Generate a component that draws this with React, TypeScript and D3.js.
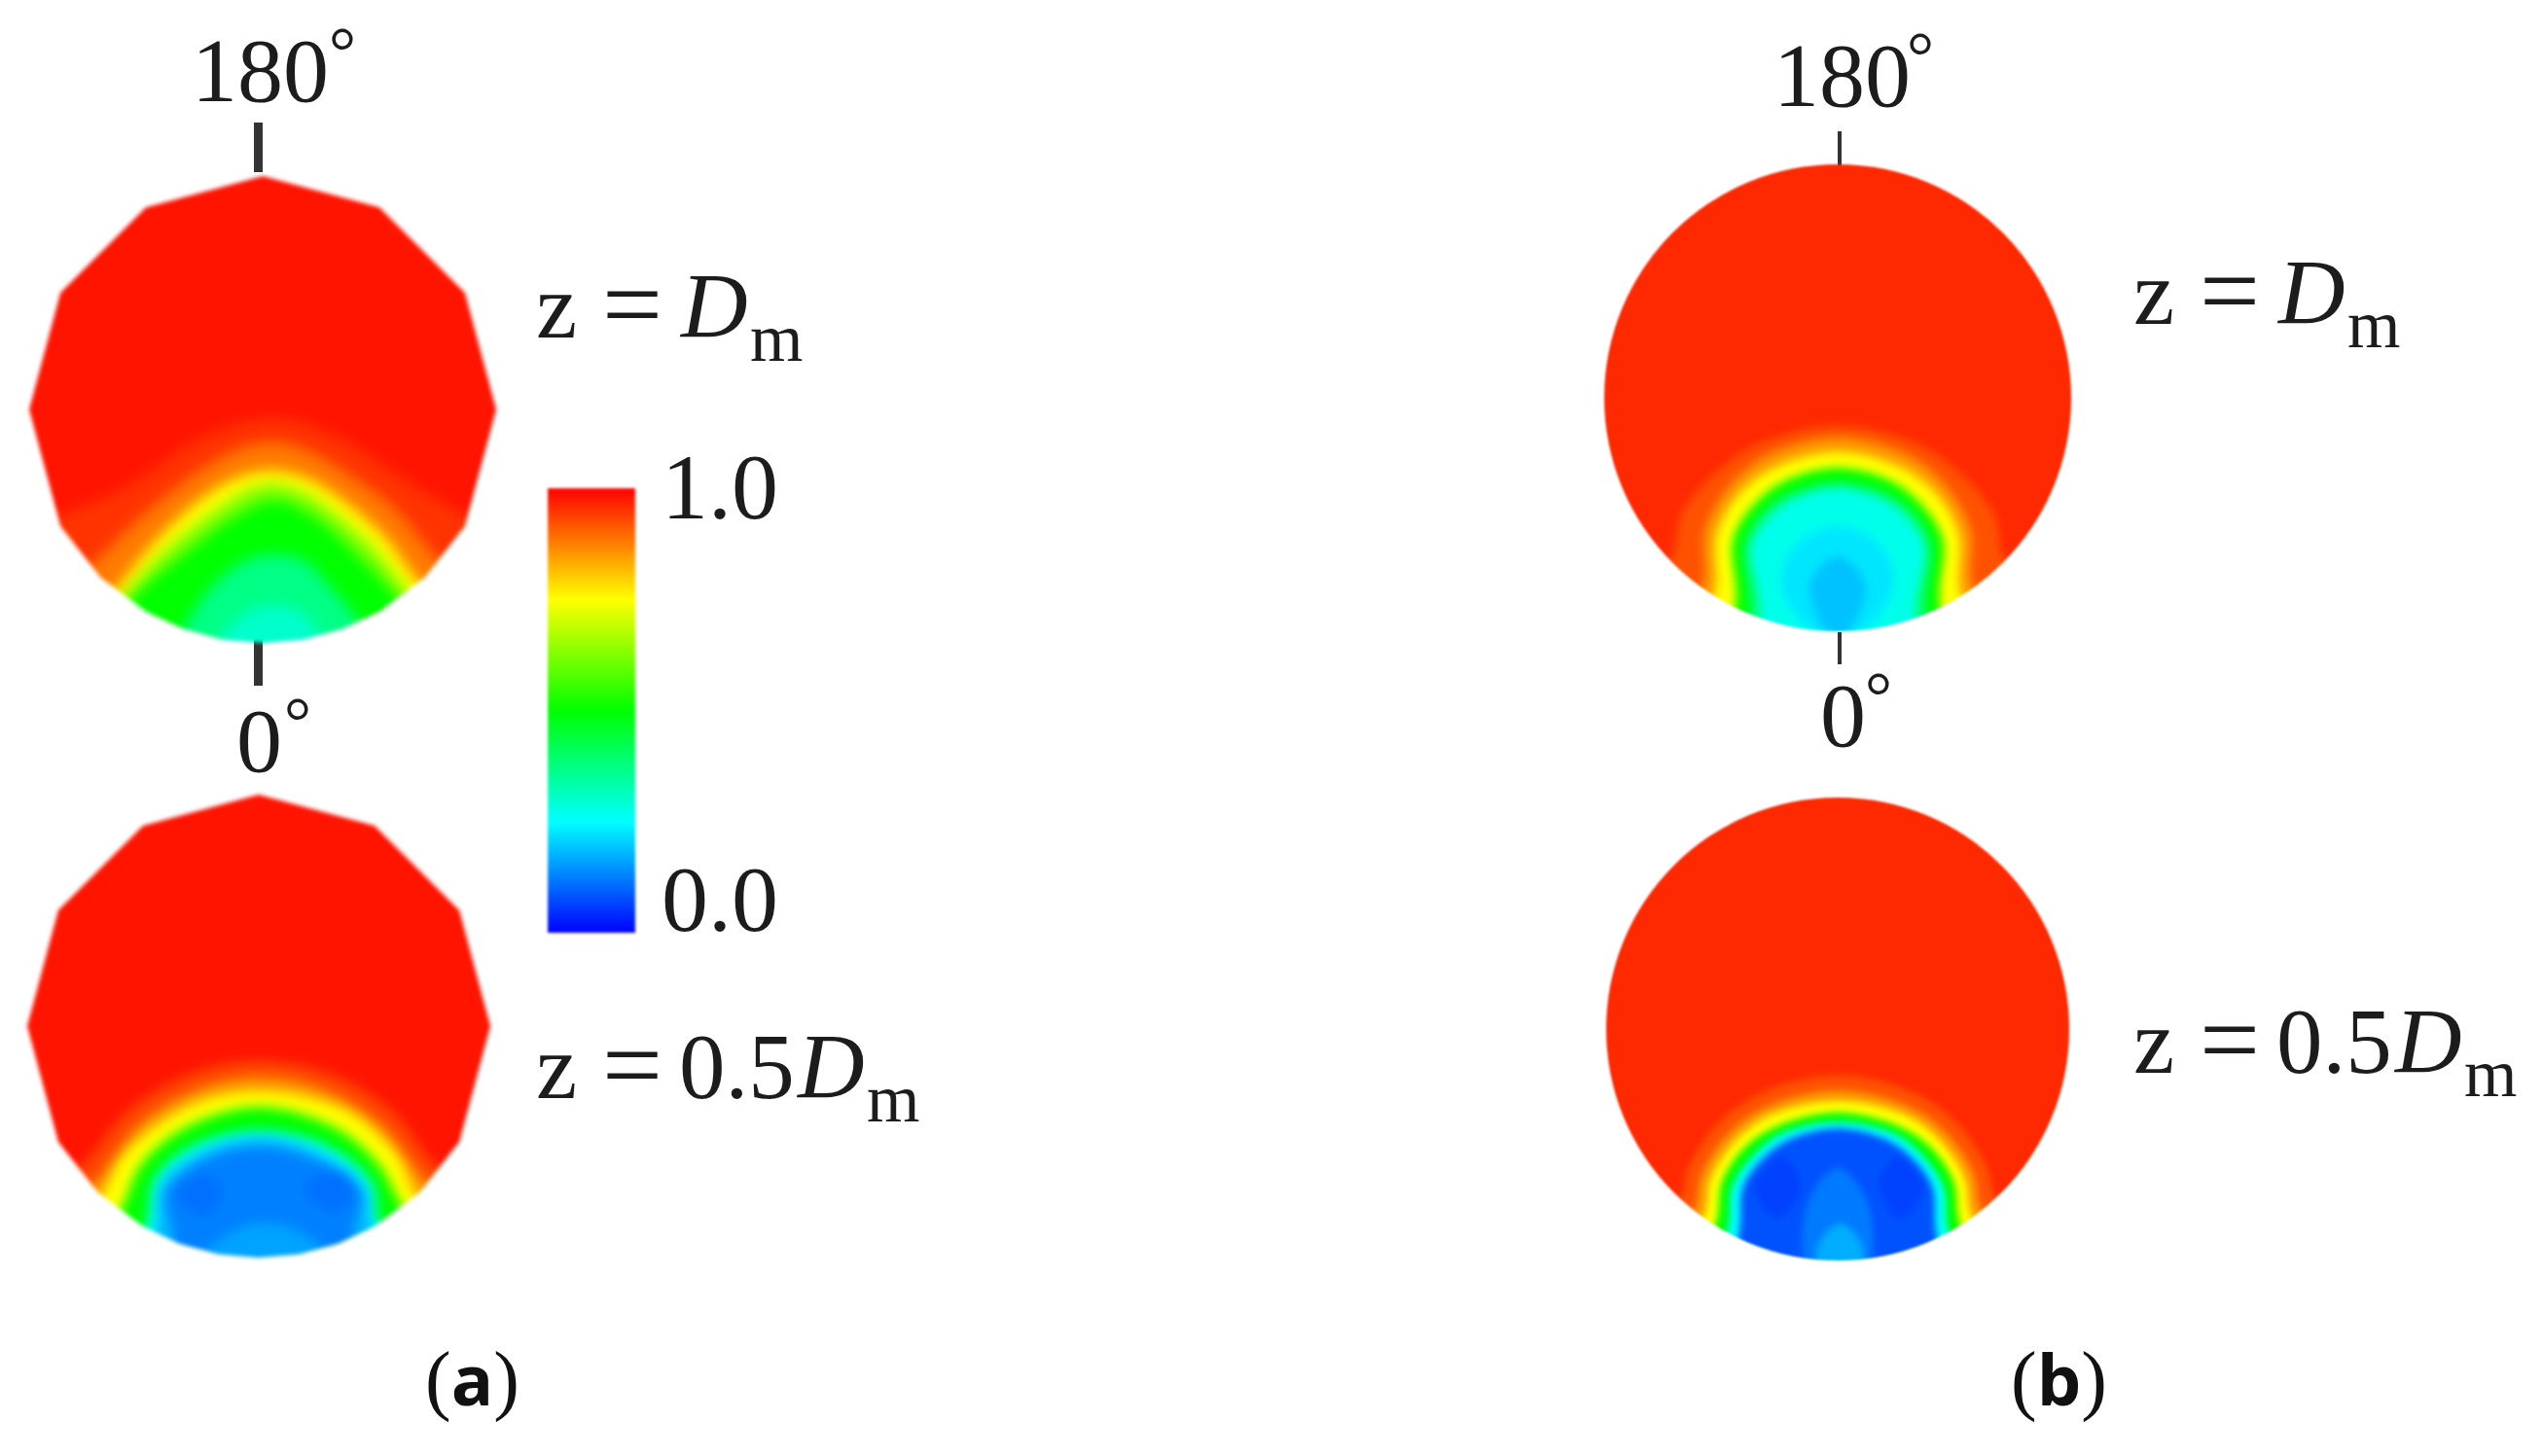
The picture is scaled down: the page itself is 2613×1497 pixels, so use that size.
import * as d3 from "d3";

type Pt = [number, number];
type Band = { v: number; pts: Pt[] };

const WIDTH = 2613;
const HEIGHT = 1497;
const SERIF = "'Liberation Serif', serif";

// band edge runs from the left rim over the top to the right rim, then closes off-disc
const arch = (v: number, pts: Pt[]): Band => {
  const f = pts[0];
  const l = pts[pts.length - 1];
  return {
    v,
    pts: [...pts, [l[0] * 1.4, l[1] * 1.4], [0, 1.7], [f[0] * 1.4, f[1] * 1.4]],
  };
};
const blob = (v: number, pts: Pt[]): Band => ({ v, pts });

// colour bar stops
const barValues = [0, 0.25, 0.5, 0.75, 1];
const barColors = ["#0000ff", "#00ffff", "#00ff00", "#ffff00", "#ff0000"];
const barLabels = [
  { v: 1, text: "1.0", x: 680, y: 533 },
  { v: 0, text: "0.0", x: 680, y: 957 },
];

// angles of the rim vertices on the measured discs in (a), degrees from 180° mark
const rimAngles = [0, 30, 60, 90, 120, 136, 150, 160, 170, 180, 190, 200, 210, 224, 240, 270, 300, 330];

// field: base value, then nested bands in x/R, y/R (y down)
const aTopBase = 0.98;
const aTopBands: Band[] = [
  arch(0.95, [[-0.88, 0.46], [-0.6, 0.34], [-0.26, 0.12], [0.05, 0.04], [0.33, 0.12], [0.64, 0.32], [0.88, 0.46]]),
  arch(0.88, [[-0.74, 0.67], [-0.5, 0.44], [-0.24, 0.24], [-0.08, 0.16], [0.05, 0.14], [0.18, 0.17], [0.31, 0.24], [0.56, 0.42], [0.76, 0.65]]),
  arch(0.75, [[-0.63, 0.77], [-0.43, 0.53], [-0.22, 0.35], [-0.08, 0.28], [0.05, 0.26], [0.18, 0.29], [0.29, 0.35], [0.51, 0.53], [0.67, 0.74]]),
  arch(0.62, [[-0.6, 0.8], [-0.38, 0.57], [-0.17, 0.41], [-0.05, 0.34], [0.05, 0.32], [0.16, 0.35], [0.26, 0.41], [0.46, 0.58], [0.62, 0.78]]),
  arch(0.5, [[-0.57, 0.82], [-0.31, 0.6], [-0.12, 0.46], [0.05, 0.39], [0.22, 0.46], [0.41, 0.63], [0.58, 0.81]]),
  arch(0.37, [[-0.34, 0.94], [-0.22, 0.76], [-0.08, 0.65], [0.05, 0.62], [0.18, 0.65], [0.29, 0.76], [0.41, 0.91]]),
  arch(0.3, [[-0.19, 1], [-0.05, 0.86], [0.05, 0.84], [0.15, 0.86], [0.27, 1]]),
];

const aBottomBase = 0.98;
const aBottomBands: Band[] = [
  arch(0.93, [[-0.78, 0.62], [-0.56, 0.36], [-0.28, 0.2], [0, 0.15], [0.29, 0.2], [0.57, 0.36], [0.78, 0.62]]),
  arch(0.85, [[-0.72, 0.69], [-0.51, 0.42], [-0.26, 0.27], [0, 0.22], [0.27, 0.27], [0.52, 0.42], [0.73, 0.68]]),
  arch(0.75, [[-0.68, 0.73], [-0.59, 0.56], [-0.37, 0.38], [-0.18, 0.3], [0, 0.28], [0.19, 0.3], [0.41, 0.38], [0.6, 0.56], [0.68, 0.73]]),
  arch(0.5, [[-0.6, 0.8], [-0.51, 0.6], [-0.32, 0.44], [0, 0.35], [0.33, 0.44], [0.52, 0.6], [0.62, 0.78]]),
  arch(0.25, [[-0.49, 0.87], [-0.45, 0.66], [-0.29, 0.52], [0, 0.45], [0.3, 0.52], [0.49, 0.68], [0.52, 0.85]]),
  arch(0.18, [[-0.45, 0.89], [-0.42, 0.68], [-0.26, 0.55], [0, 0.48], [0.27, 0.55], [0.46, 0.7], [0.49, 0.87]]),
  arch(0.125, [[-0.37, 0.93], [-0.4, 0.72], [-0.24, 0.58], [0, 0.52], [0.25, 0.58], [0.44, 0.72], [0.41, 0.92]]),
  blob(0.11, [[-0.36, 0.72], [-0.24, 0.64], [-0.16, 0.72], [-0.24, 0.82]]),
  blob(0.11, [[0.2, 0.7], [0.33, 0.62], [0.42, 0.7], [0.33, 0.8]]),
  blob(0.16, [[-0.24, 1], [-0.1, 0.88], [0.03, 0.85], [0.16, 0.88], [0.28, 0.98], [0.05, 1.12]]),
];

const bTopBase = 0.96;
const bTopBands: Band[] = [
  arch(0.92, [[-0.72, 0.7], [-0.66, 0.48], [-0.42, 0.24], [-0.2, 0.15], [0, 0.12], [0.2, 0.15], [0.42, 0.24], [0.66, 0.48], [0.72, 0.7]]),
  arch(0.85, [[-0.58, 0.81], [-0.57, 0.57], [-0.47, 0.385], [-0.3, 0.245], [0, 0.17], [0.3, 0.245], [0.47, 0.385], [0.57, 0.57], [0.58, 0.81]]),
  arch(0.75, [[-0.53, 0.85], [-0.52, 0.59], [-0.43, 0.42], [-0.275, 0.3], [0, 0.23], [0.275, 0.3], [0.43, 0.42], [0.52, 0.59], [0.53, 0.85]]),
  arch(0.5, [[-0.44, 0.9], [-0.45, 0.61], [-0.37, 0.47], [-0.235, 0.36], [0, 0.3], [0.235, 0.36], [0.37, 0.47], [0.45, 0.61], [0.44, 0.9]]),
  arch(0.38, [[-0.38, 0.93], [-0.4, 0.63], [-0.33, 0.5], [-0.21, 0.41], [0, 0.36], [0.21, 0.41], [0.33, 0.5], [0.4, 0.63], [0.38, 0.93]]),
  arch(0.27, [[-0.33, 0.94], [-0.37, 0.64], [-0.3, 0.52], [-0.195, 0.44], [0, 0.39], [0.195, 0.44], [0.3, 0.52], [0.37, 0.64], [0.33, 0.94]]),
  blob(0.225, [[-0.24, 0.8], [-0.17, 0.62], [0, 0.55], [0.17, 0.62], [0.24, 0.8], [0.1, 1], [-0.1, 1]]),
  blob(0.19, [[-0.12, 0.8], [0, 0.68], [0.12, 0.8], [0.03, 1.02], [-0.03, 1.02]]),
];

const bBottomBase = 0.96;
const bBottomBands: Band[] = [
  arch(0.92, [[-0.68, 0.73], [-0.65, 0.61], [-0.53, 0.42], [-0.34, 0.28], [0, 0.2], [0.34, 0.28], [0.53, 0.42], [0.65, 0.61], [0.68, 0.73]]),
  arch(0.85, [[-0.62, 0.78], [-0.59, 0.63], [-0.48, 0.46], [-0.31, 0.335], [0, 0.265], [0.31, 0.335], [0.48, 0.46], [0.59, 0.63], [0.62, 0.78]]),
  arch(0.75, [[-0.58, 0.81], [-0.55, 0.65], [-0.45, 0.49], [-0.29, 0.37], [0, 0.31], [0.29, 0.37], [0.45, 0.49], [0.55, 0.65], [0.58, 0.81]]),
  arch(0.5, [[-0.53, 0.85], [-0.5, 0.66], [-0.41, 0.52], [-0.265, 0.42], [0, 0.36], [0.265, 0.42], [0.41, 0.52], [0.5, 0.66], [0.53, 0.85]]),
  arch(0.25, [[-0.48, 0.88], [-0.456, 0.68], [-0.37, 0.55], [-0.24, 0.45], [0, 0.4], [0.24, 0.45], [0.37, 0.55], [0.456, 0.68], [0.48, 0.88]]),
  arch(0.08, [[-0.43, 0.9], [-0.41, 0.685], [-0.335, 0.57], [-0.215, 0.48], [0, 0.43], [0.215, 0.48], [0.335, 0.57], [0.41, 0.685], [0.43, 0.9]]),
  blob(0.065, [[-0.36, 0.68], [-0.24, 0.55], [-0.16, 0.68], [-0.26, 0.82]]),
  blob(0.065, [[0.18, 0.68], [0.25, 0.55], [0.37, 0.68], [0.27, 0.82]]),
  blob(0.12, [[-0.13, 0.75], [0, 0.6], [0.13, 0.75], [0.12, 1.05], [-0.12, 1.05]]),
  blob(0.17, [[-0.08, 0.92], [0.01, 0.84], [0.1, 0.92], [0.1, 1.05], [-0.08, 1.05]]),
];

const angleMarks = ["180", "0"];

const color = d3.scaleLinear<string>().domain(barValues).range(barColors).interpolate(d3.interpolateRgb);

const bandPath = d3.line().curve(d3.curveCatmullRomClosed.alpha(0.5));
const rimPath = d3.lineRadial<number>()
  .angle((a) => (a * Math.PI) / 180)
  .radius(1)
  .curve(d3.curveLinearClosed);

type DiscProps = {
  id: string;
  cx: number;
  cy: number;
  r: number;
  base: number;
  bands: Band[];
  polygon?: boolean;
  blur: number;
  edge: number;
};

function Disc({ id, cx, cy, r, base, bands, polygon, blur, edge }: DiscProps) {
  const x = d3.scaleLinear().domain([-1, 1]).range([cx - r, cx + r]);
  const y = d3.scaleLinear().domain([-1, 1]).range([cy - r, cy + r]);
  return (
    <g filter={`url(#edge-${id})`}>
      <defs>
        <clipPath id={`clip-${id}`}>
          {polygon ? (
            <path transform={`translate(${cx},${cy}) scale(${r})`} d={rimPath(rimAngles) ?? ""} />
          ) : (
            <circle cx={cx} cy={cy} r={r} />
          )}
        </clipPath>
        <filter id={`band-${id}`} filterUnits="userSpaceOnUse" x={cx - 2 * r} y={cy - 2 * r} width={4 * r} height={4 * r} colorInterpolationFilters="sRGB">
          <feGaussianBlur stdDeviation={blur} />
        </filter>
        <filter id={`edge-${id}`} filterUnits="userSpaceOnUse" x={cx - 2 * r} y={cy - 2 * r} width={4 * r} height={4 * r} colorInterpolationFilters="sRGB">
          <feGaussianBlur stdDeviation={edge} />
        </filter>
      </defs>
      <g clipPath={`url(#clip-${id})`}>
        <g filter={`url(#band-${id})`}>
          <rect x={cx - 1.5 * r} y={cy - 1.5 * r} width={3 * r} height={3 * r} fill={color(base)} />
          {bands.map((b, i) => (
            <path key={i} fill={color(b.v)} d={bandPath(b.pts.map(([px, py]) => [x(px), y(py)] as Pt)) ?? ""} />
          ))}
        </g>
      </g>
    </g>
  );
}

function Colorbar() {
  const y = d3.scaleLinear().domain([0, 1]).range([959, 502]);
  return (
    <g>
      <defs>
        <linearGradient id="barGrad" x1="0" y1="1" x2="0" y2="0">
          {barValues.map((v, i) => (
            <stop key={v} offset={`${v * 100}%`} stopColor={barColors[i]} />
          ))}
        </linearGradient>
        <filter id="barSoft" filterUnits="userSpaceOnUse" x={540} y={480} width={140} height={500} colorInterpolationFilters="sRGB">
          <feGaussianBlur stdDeviation={1.5} />
        </filter>
      </defs>
      <rect x={563} y={y(1)} width={90} height={y(0) - y(1)} fill="url(#barGrad)" filter="url(#barSoft)" />
      {barLabels.map((l) => (
        <text key={l.text} x={l.x} y={l.y} fontSize={96} fontFamily={SERIF} fill="#1c1c1c">{l.text}</text>
      ))}
    </g>
  );
}

function Degree({ text, x, y, dx, size = 94 }: { text: string; x: number; y: number; dx: number; size?: number }) {
  return (
    <text x={x} y={y} fontSize={size} fontFamily={SERIF} fill="#1c1c1c">
      {text}
      <tspan x={x + dx} y={y - 28} fontSize={70}>°</tspan>
    </text>
  );
}

function ZLabel({ x, y, coeff }: { x: number; y: number; coeff?: string }) {
  const dx = coeff ? 120 : 0;
  return (
    <text y={y} fontSize={95} fontFamily={SERIF} fill="#1c1c1c">
      <tspan x={x}>z</tspan>
      <tspan x={x + 68} y={y + 3} fontSize={110}>=</tspan>
      {coeff ? <tspan x={x + 147} y={y}>{coeff}</tspan> : null}
      <tspan x={x + 149 + dx} y={y} fontStyle="italic">D</tspan>
      <tspan x={x + 220 + dx} y={y + 24} fontSize={70}>m</tspan>
    </text>
  );
}

function Tag({ x, letter }: { x: number; letter: string }) {
  return (
    <text x={x} y={1445} fontSize={80} fontFamily={SERIF} fill="#111">
      (<tspan fontFamily="'Open Sans', sans-serif" fontWeight={700} fontSize={72}>{letter}</tspan>)
    </text>
  );
}

export default function App() {
  return (
    <svg
      width={WIDTH}
      height={HEIGHT}
      viewBox={`0 0 ${WIDTH} ${HEIGHT}`}
      style={{ position: "absolute", left: 0, top: 0, display: "block", background: "#fff" }}
    >
      {/* (a) measured */}
      <rect x={261} y={126} width={9} height={51} fill="#333" />
      <rect x={261} y={657} width={9} height={48} fill="#333" />
      <Disc id="at" cx={270} cy={421} r={240} base={aTopBase} bands={aTopBands} polygon blur={7} edge={2} />
      <Disc id="ab" cx={266} cy={1055} r={238} base={aBottomBase} bands={aBottomBands} polygon blur={6} edge={2} />
      <Degree text={angleMarks[0]} x={197} y={104} dx={141} />
      <Degree text={angleMarks[1]} x={243} y={793} dx={49} />
      <ZLabel x={551} y={347} />
      <ZLabel x={551} y={1129} coeff="0.5" />
      <Colorbar />
      <Tag x={437} letter="a" />

      {/* (b) simulated */}
      <rect x={1889} y={135} width={4} height={36} fill="#333" />
      <rect x={1889} y={650} width={4} height={33} fill="#333" />
      <Disc id="bt" cx={1889} cy={409} r={240} base={bTopBase} bands={bTopBands} blur={5} edge={0.8} />
      <Disc id="bb" cx={1889} cy={1058} r={238} base={bBottomBase} bands={bBottomBands} blur={3.5} edge={0.8} />
      <Degree text={angleMarks[0]} x={1823} y={109} dx={137} />
      <Degree text={angleMarks[1]} x={1871} y={767} dx={46} />
      <ZLabel x={2193} y={333} />
      <ZLabel x={2193} y={1103} coeff="0.5" />
      <Tag x={2067} letter="b" />
    </svg>
  );
}
